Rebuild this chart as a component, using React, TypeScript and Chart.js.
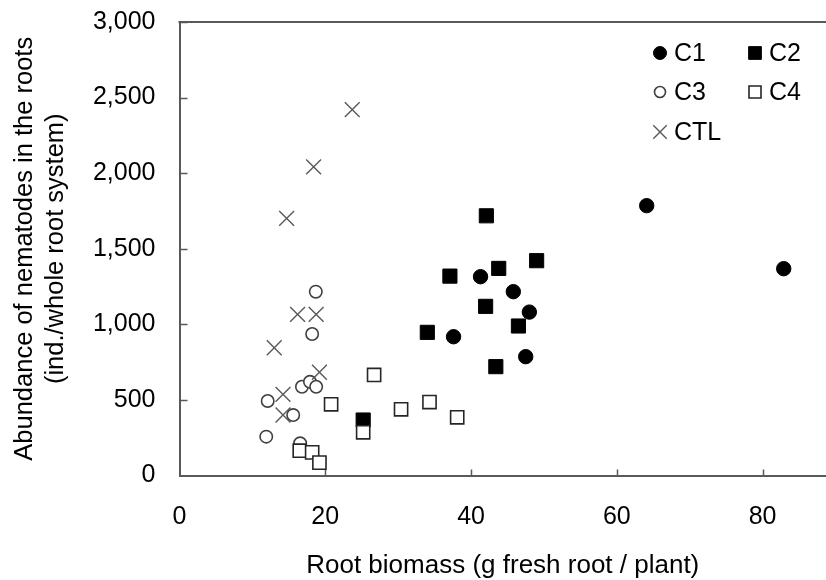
import React, { useEffect, useRef } from 'react';
import { Chart, registerables } from 'chart.js';
import * as helpers from 'chart.js/helpers';

Chart.register(...registerables);

// ---- Data ----
const c1X = [41.3, 45.8, 48.0, 37.6, 47.5, 64.1, 82.9];
const c1Y = [1315, 1216, 1081, 918, 786, 1785, 1368];

const c2X = [42.1, 49.0, 43.8, 37.1, 42.0, 46.5, 34.0, 43.4, 25.2];
const c2Y = [1718, 1421, 1370, 1319, 1119, 989, 947, 720, 367];

const c3X = [18.7, 18.2, 16.8, 17.9, 18.75, 12.1, 15.6, 11.9, 16.55];
const c3Y = [1216, 936, 587, 620, 587, 493, 400, 257, 213];

const c4X = [26.7, 20.8, 30.4, 34.3, 38.1, 25.2, 16.5, 18.2, 19.2];
const c4Y = [665, 471, 438, 486, 385, 286, 164, 153, 85];

const ctlX = [23.7, 18.4, 14.7, 16.2, 18.75, 13.0, 19.2, 14.2, 14.2];
const ctlY = [2420, 2042, 1701, 1066, 1066, 845, 683, 537, 400];

const xTicks = [0, 20, 40, 60, 80];
const yTicks = [0, 500, 1000, 1500, 2000, 2500, 3000];

const seriesNames = ['C1', 'C2', 'C3', 'C4', 'CTL'];
const xTitle = 'Root biomass (g fresh root / plant)';
const yTitle = ['Abundance of nematodes in the roots', '(ind./whole root system)'];

const FONT = "'Liberation Sans', Arial, sans-serif";
const AXIS_COLOR = '#595959';

const zip = (xs: number[], ys: number[]) => xs.map((x, i) => ({ x, y: ys[i] }));

const noScalePadding = (s: any) => {
  s.paddingTop = 0;
  s.paddingBottom = 0;
  s.paddingLeft = 0;
  s.paddingRight = 0;
};

export default function App() {
  const ref = useRef<HTMLCanvasElement | null>(null);

  useEffect(() => {
    document.body.style.margin = '0';
    const canvas = ref.current;
    if (!canvas) return;

    const styles = [
      { pointStyle: 'circle', radius: 7.2, bg: '#000', border: '#000', bw: 1, lr: 6.5 },
      { pointStyle: 'rect', radius: 10, bg: '#000', border: '#000', bw: 1, lr: 9 },
      { pointStyle: 'circle', radius: 6.2, bg: '#fff', border: '#404040', bw: 1.6, lr: 5.5 },
      { pointStyle: 'rect', radius: 9.3, bg: '#fff', border: '#262626', bw: 1.6, lr: 8.5 },
      { pointStyle: 'crossRot', radius: 10.5, bg: '#595959', border: '#595959', bw: 1.4, lr: 9.5 },
    ];
    const datasetsData = [zip(c1X, c1Y), zip(c2X, c2Y), zip(c3X, c3Y), zip(c4X, c4Y), zip(ctlX, ctlY)];
    const order = [2, 3, 4, 1, 0];

    const innerTicks = {
      id: 'innerTicks',
      beforeDatasetsDraw(chart: any) {
        const { ctx, chartArea, scales } = chart;
        ctx.save();
        ctx.strokeStyle = AXIS_COLOR;
        ctx.lineWidth = 1.5;
        ctx.beginPath();
        xTicks.forEach((v) => {
          if (v === 0) return;
          const px = Math.round(scales.x.getPixelForValue(v)) + 0.5;
          ctx.moveTo(px, chartArea.bottom);
          ctx.lineTo(px, chartArea.bottom - 6);
        });
        yTicks.forEach((v) => {
          if (v === 0) return;
          const py = Math.round(scales.y.getPixelForValue(v)) + 0.5;
          ctx.moveTo(chartArea.left, py);
          ctx.lineTo(chartArea.left + 8, py);
        });
        ctx.stroke();
        ctx.lineWidth = 2;
        ctx.beginPath();
        ctx.moveTo(chartArea.left - 1, chartArea.top);
        ctx.lineTo(chartArea.right, chartArea.top);
        ctx.stroke();
        ctx.restore();
      },
    };

    const legendPlugin = {
      id: 'customLegend',
      afterDraw(chart: any) {
        const { ctx } = chart;
        const cols = [660, 755];
        const rows = [53, 92, 132];
        ctx.save();
        ctx.font = `25px ${FONT}`;
        ctx.textBaseline = 'middle';
        ctx.textAlign = 'left';
        seriesNames.forEach((name, i) => {
          const cx = cols[i % 2];
          const cy = rows[Math.floor(i / 2)];
          const s = styles[i];
          ctx.fillStyle = s.bg;
          ctx.strokeStyle = s.border;
          ctx.lineWidth = s.bw;
          helpers.drawPoint(ctx, { pointStyle: s.pointStyle as any, radius: s.lr, rotation: 0, borderWidth: s.bw }, cx, cy);
          ctx.fillStyle = '#000';
          ctx.fillText(name, cx + 14, cy + 1);
        });
        ctx.restore();
      },
    };

    const chart = new Chart(canvas, {
      type: 'scatter',
      data: {
        datasets: seriesNames.map((name, i) => ({
          label: name,
          data: datasetsData[i],
          pointStyle: styles[i].pointStyle as any,
          pointRadius: styles[i].radius,
          pointHoverRadius: styles[i].radius,
          backgroundColor: styles[i].bg,
          borderColor: styles[i].border,
          pointBorderWidth: styles[i].bw,
          order: order[i],
        })),
      },
      options: {
        responsive: false,
        animation: false,
        events: [],
        layout: { autoPadding: false, padding: { top: 22, right: 0, left: 0, bottom: 0 } },
        plugins: {
          legend: { display: false },
          tooltip: { enabled: false },
        },
        scales: {
          x: {
            type: 'linear',
            min: 0,
            max: 88.7,
            afterFit: (s: any) => { s.height = 104.5; noScalePadding(s); },
            border: { display: true, color: AXIS_COLOR, width: 2 },
            grid: { display: true, drawOnChartArea: false, drawTicks: false },
            ticks: {
              stepSize: 20,
              includeBounds: false,
              color: '#000',
              padding: 27,
              maxRotation: 0,
              font: { family: FONT, size: 25 },
            },
            title: {
              display: true,
              text: xTitle,
              color: '#000',
              font: { family: FONT, size: 26 },
              padding: { top: 0, bottom: -1 },
            },
          },
          y: {
            type: 'linear',
            min: 0,
            max: 3000,
            afterFit: (s: any) => { s.width = 179.5; noScalePadding(s); },
            border: { display: true, color: AXIS_COLOR, width: 2 },
            grid: { display: true, drawOnChartArea: false, drawTicks: false },
            ticks: {
              stepSize: 500,
              color: '#000',
              padding: 24,
              font: { family: FONT, size: 25 },
              callback: (v: any) => Number(v).toLocaleString('en-US'),
            },
            title: {
              display: true,
              text: yTitle,
              color: '#000',
              font: { family: FONT, size: 25.5, lineHeight: 1.22 },
              padding: { top: 9.5, bottom: 0 },
            },
          },
        },
      },
      plugins: [innerTicks, legendPlugin],
    });

    return () => chart.destroy();
  }, []);

  return (
    <div style={{ width: 826, height: 580 }}>
      <canvas ref={ref} width={826} height={580} style={{ display: 'block' }} />
    </div>
  );
}
